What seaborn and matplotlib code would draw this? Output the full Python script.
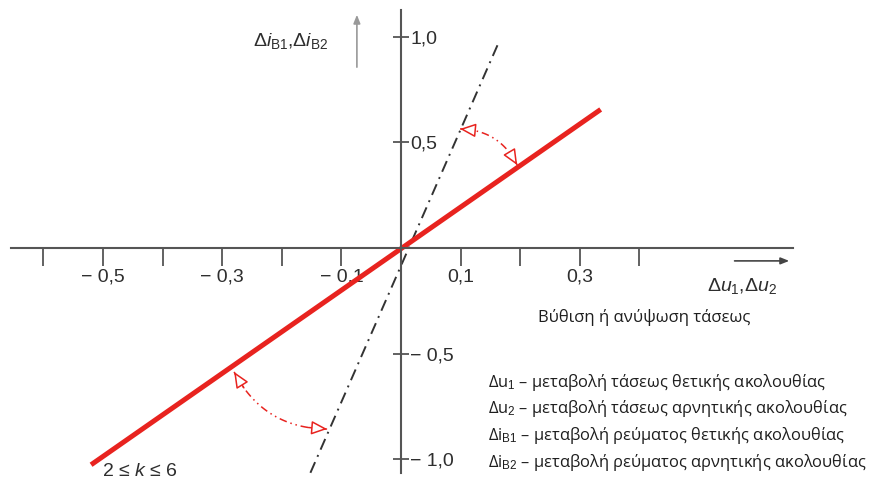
import numpy as np
import matplotlib
matplotlib.use("Agg")
import matplotlib.pyplot as plt
from matplotlib.patches import FancyArrowPatch
import seaborn as sns
import pandas as pd

# characteristic lines
red_x = [-0.52, 0.335]
red_y = [-1.025, 0.655]
dd_x = [-0.152, 0.163]
dd_y = [-1.063, 0.966]

# arc arrows between the two lines
arc_up = [(0.099, 0.563), (0.195, 0.392)]
arc_down = [(-0.280, -0.586), (-0.124, -0.856)]

x_ticks = [-0.6, -0.5, -0.4, -0.3, -0.2, -0.1, 0.1, 0.2, 0.3, 0.4]
x_labels = ["", "\u2212 0,5", "", "\u2212 0,3", "", "\u2212 0,1", "0,1", "", "0,3", ""]
y_ticks = [-1.0, -0.5, 0.5, 1.0]
y_labels = ["\u2212 1,0", "\u2212 0,5", "0,5", "1,0"]

legend_lines = [
    "\u0394u$_1$ \u2013 μεταβολή τάσεως θετικής ακολουθίας",
    "\u0394u$_2$ \u2013 μεταβολή τάσεως αρνητικής ακολουθίας",
    "\u0394i$_{\\mathrm{B1}}$ \u2013 μεταβολή ρεύματος θετικής ακολουθίας",
    "\u0394i$_{\\mathrm{B2}}$ \u2013 μεταβολή ρεύματος αρνητικής ακολουθίας",
]

sns.set_style("white")
plt.rcParams["font.family"] = ["Liberation Sans", "DejaVu Sans"]
plt.rcParams["mathtext.fontset"] = "custom"
plt.rcParams["mathtext.rm"] = "Liberation Sans"
plt.rcParams["mathtext.it"] = "Liberation Sans:italic"
plt.rcParams["mathtext.bf"] = "Liberation Sans:bold"

RED = "#e8231f"
AX = "#555555"
TXT = "#2e2e2e"

fig = plt.figure(figsize=(8.69, 4.8), dpi=100)
ax = fig.add_axes([0, 0, 1, 1])
ax.set_xlim(-0.6728, 0.7852)
ax.set_ylim(-1.097, 1.1726)

# axes through origin
for s in ["top", "left"]:
    ax.spines[s].set_visible(False)
ax.spines["bottom"].set_position(("data", 0))
ax.spines["right"].set_position(("data", 0))
ax.spines["bottom"].set_bounds(-0.654, 0.658)
ax.spines["right"].set_bounds(-1.066, 1.125)
for s in ["bottom", "right"]:
    ax.spines[s].set_color(AX)
    ax.spines[s].set_linewidth(1.5)

ax.xaxis.set_ticks_position("bottom")
ax.yaxis.set_ticks_position("right")
ax.set_xticks(x_ticks)
ax.set_xticklabels(x_labels)
ax.set_yticks(y_ticks)
ax.set_yticklabels(y_labels)
ax.tick_params(axis="x", direction="out", length=13, width=1.3, color=AX,
               labelsize=14, labelcolor=TXT, pad=2)
ax.tick_params(axis="y", direction="inout", length=11, width=1.3, color=AX,
               labelsize=14, labelcolor=TXT, pad=1)
ax.grid(False)

# lines
sns.lineplot(x=dd_x, y=dd_y, ax=ax, color="#333333", lw=1.4, sort=False,
             estimator=None, linestyle=(0, (6, 3, 1, 3)))
sns.lineplot(x=red_x, y=red_y, ax=ax, color=RED, lw=3.6, sort=False,
             estimator=None, solid_capstyle="butt")


def arc_arrow(p0, p1, rad):
    tr = ax.transData
    a = tr.transform(p0)
    b = tr.transform(p1)
    d = b - a
    c = (a + b) / 2 + rad * np.array([d[1], -d[0]])
    t = np.linspace(0, 1, 60)[:, None]
    pts = (1 - t) ** 2 * a + 2 * (1 - t) * t * c + t ** 2 * b
    pts = tr.inverted().transform(pts)
    ax.plot(pts[:, 0], pts[:, 1], color=RED, lw=1.1,
            linestyle=(0, (5, 2.5, 1, 2.5, 1, 2.5)))
    for i_from, i_to in [(9, 0), (50, 59)]:
        ax.add_patch(FancyArrowPatch(pts[i_from], pts[i_to],
                                     arrowstyle="-|>,head_length=0.8,head_width=0.35",
                                     mutation_scale=12, color=RED, fc="white",
                                     lw=1.1, shrinkA=0, shrinkB=0, zorder=5))


arc_arrow(arc_up[0], arc_up[1], -0.3)
arc_arrow(arc_down[0], arc_down[1], 0.3)

# axis arrows and names
ax.annotate("", xy=(-0.074, 1.116), xytext=(-0.074, 0.842),
            arrowprops=dict(arrowstyle="-|>,head_length=0.5,head_width=0.2",
                            color="#999999", lw=1.2))
ax.annotate("", xy=(0.656, -0.061), xytext=(0.555, -0.061),
            arrowprops=dict(arrowstyle="-|>,head_length=0.5,head_width=0.2",
                            color="#444444", lw=1.2))
ax.text(-0.122, 0.98, r"$\Delta \mathit{i}_{\mathrm{B1}}\mathrm{,}\Delta \mathit{i}_{\mathrm{B2}}$",
        ha="right", va="center", fontsize=14, color=TXT)
ax.text(0.572, -0.178, r"$\Delta \mathit{u}_{1}\mathrm{,}\Delta \mathit{u}_{2}$",
        ha="center", va="center", fontsize=14, color=TXT)
ax.text(-0.502, -1.059, r"2 ≤ $\mathit{k}$ ≤ 6", ha="left", va="center",
        fontsize=14, color=TXT)

greek = ["Open Sans", "DejaVu Sans"]
ax.text(0.23, -0.331, "Βύθιση ή ανύψωση τάσεως", ha="left", va="center",
        fontsize=12, color="#1e1e1e", family=greek)
for i, line in enumerate(legend_lines):
    ax.text(0.146, -0.634 - i * 0.126, line, ha="left", va="center",
            fontsize=11.9, color="#1e1e1e", family=greek)

fig.savefig("out.png", dpi=100)
